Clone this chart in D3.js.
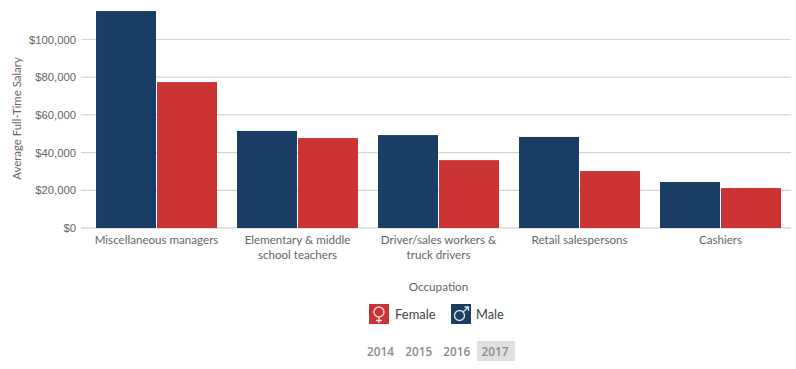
<!DOCTYPE html>
<html><head><meta charset="utf-8">
<script src="https://cdn.jsdelivr.net/npm/d3@7"></script>
<style>
html,body{margin:0;padding:0;background:#fff;}
svg{display:block;font-family:"Lato","Noto Sans",sans-serif;}
</style></head><body><svg id="c" width="796" height="369"></svg>
<script>
const occupations=[["Miscellaneous managers"],["Elementary & middle","school teachers"],["Driver/sales workers &","truck drivers"],["Retail salespersons"],["Cashiers"]];
const maleValues=[115100,51500,49300,48300,24400];
const femaleValues=[77400,47700,36000,30200,21200];
const yTicks=[0,20000,40000,60000,80000,100000];
const years=["2014","2015","2016","2017"];
const activeYear="2017";
const colors={male:"#1a3e63",female:"#cb3335"};
const svg=d3.select("#c");
const x=d3.scaleBand().domain(d3.range(5)).range([86,791]).paddingInner(0.142).paddingOuter(0.071);
const y=d3.scaleLinear().domain([0,100000]).range([228,39.5]);
const inner=d3.scaleBand().domain(["male","female"]).range([0,x.bandwidth()]);
const fmt=v=>"$"+d3.format(",")(v);
const yAxis=d3.axisLeft(y).tickValues(yTicks).tickFormat(fmt).tickSize(0).tickPadding(5);
const gy=svg.append("g").attr("transform","translate(81,0)").call(yAxis);
gy.select(".domain").remove();
gy.selectAll("text").attr("font-size",11.3).attr("fill","#666").attr("font-family","inherit");
svg.append("g").selectAll("line").data(yTicks).join("line")
 .attr("x1",81).attr("x2",791).attr("y1",d=>y(d)).attr("y2",d=>y(d))
 .attr("stroke",d=>d===0?"#c8c8c8":"#d5d5d5").attr("stroke-width",1.2);
const groups=svg.append("g").selectAll("g").data(occupations).join("g").attr("transform",(d,i)=>`translate(${x(i)},0)`);
groups.append("rect").attr("x",inner("male")).attr("width",inner.bandwidth()-0.5)
 .attr("y",(d,i)=>y(maleValues[i])).attr("height",(d,i)=>y(0)-y(maleValues[i])).attr("fill",colors.male);
groups.append("rect").attr("x",inner("female")+0.5).attr("width",inner.bandwidth()-0.5)
 .attr("y",(d,i)=>y(femaleValues[i])).attr("height",(d,i)=>y(0)-y(femaleValues[i])).attr("fill",colors.female);
const lab=svg.append("g").selectAll("text").data(occupations).join("text")
 .attr("text-anchor","middle").attr("font-size",11.6).attr("fill","#666")
 .attr("transform",(d,i)=>`translate(${x(i)+x.bandwidth()/2},0)`);
lab.selectAll("tspan").data(d=>d).join("tspan").attr("x",0).attr("y",(d,i)=>244+i*15).text(d=>d);
svg.append("text").attr("transform","translate(21,118.5) rotate(-90)").attr("text-anchor","middle")
 .attr("font-size",11.4).attr("fill","#666").text("Average Full-Time Salary");
svg.append("text").attr("x",438.5).attr("y",291).attr("text-anchor","middle").attr("font-size",11.7).attr("fill","#666").text("Occupation");
const lf=svg.append("g").attr("transform","translate(369,304)");
lf.append("rect").attr("width",20).attr("height",20).attr("fill",colors.female);
lf.append("circle").attr("cx",10).attr("cy",8).attr("r",5).attr("fill","none").attr("stroke","#f3dcdc").attr("stroke-width",1.3);
lf.append("path").attr("d","M10 13V19M7 16.5H13").attr("stroke","#f3dcdc").attr("stroke-width",1.3);
svg.append("text").attr("x",395).attr("y",319).attr("font-size",13).attr("fill","#444").text("Female");
const lm=svg.append("g").attr("transform","translate(451,304)");
lm.append("rect").attr("width",20).attr("height",20).attr("fill",colors.male);
lm.append("circle").attr("cx",8.5).attr("cy",11.5).attr("r",5).attr("fill","none").attr("stroke","#dce5ee").attr("stroke-width",1.3);
lm.append("path").attr("d","M12 8L17.5 3M13.5 3H17.5V7").attr("fill","none").attr("stroke","#dce5ee").attr("stroke-width",1.3);
svg.append("text").attr("x",476).attr("y",319).attr("font-size",12.8).attr("fill","#444").text("Male");
const tx=d3.scalePoint().domain(years).range([380.5,495]);
svg.append("rect").attr("x",477).attr("y",341).attr("width",38).attr("height",20).attr("fill","#e0e0e0");
svg.append("g").selectAll("text").data(years).join("text").attr("x",d=>tx(d)).attr("y",355.5)
 .attr("text-anchor","middle").attr("font-size",11.8).attr("font-weight",600)
 .attr("font-family","'Open Sans','Noto Sans',sans-serif").attr("fill","#8c8c8c").text(d=>d);
</script></body></html>
